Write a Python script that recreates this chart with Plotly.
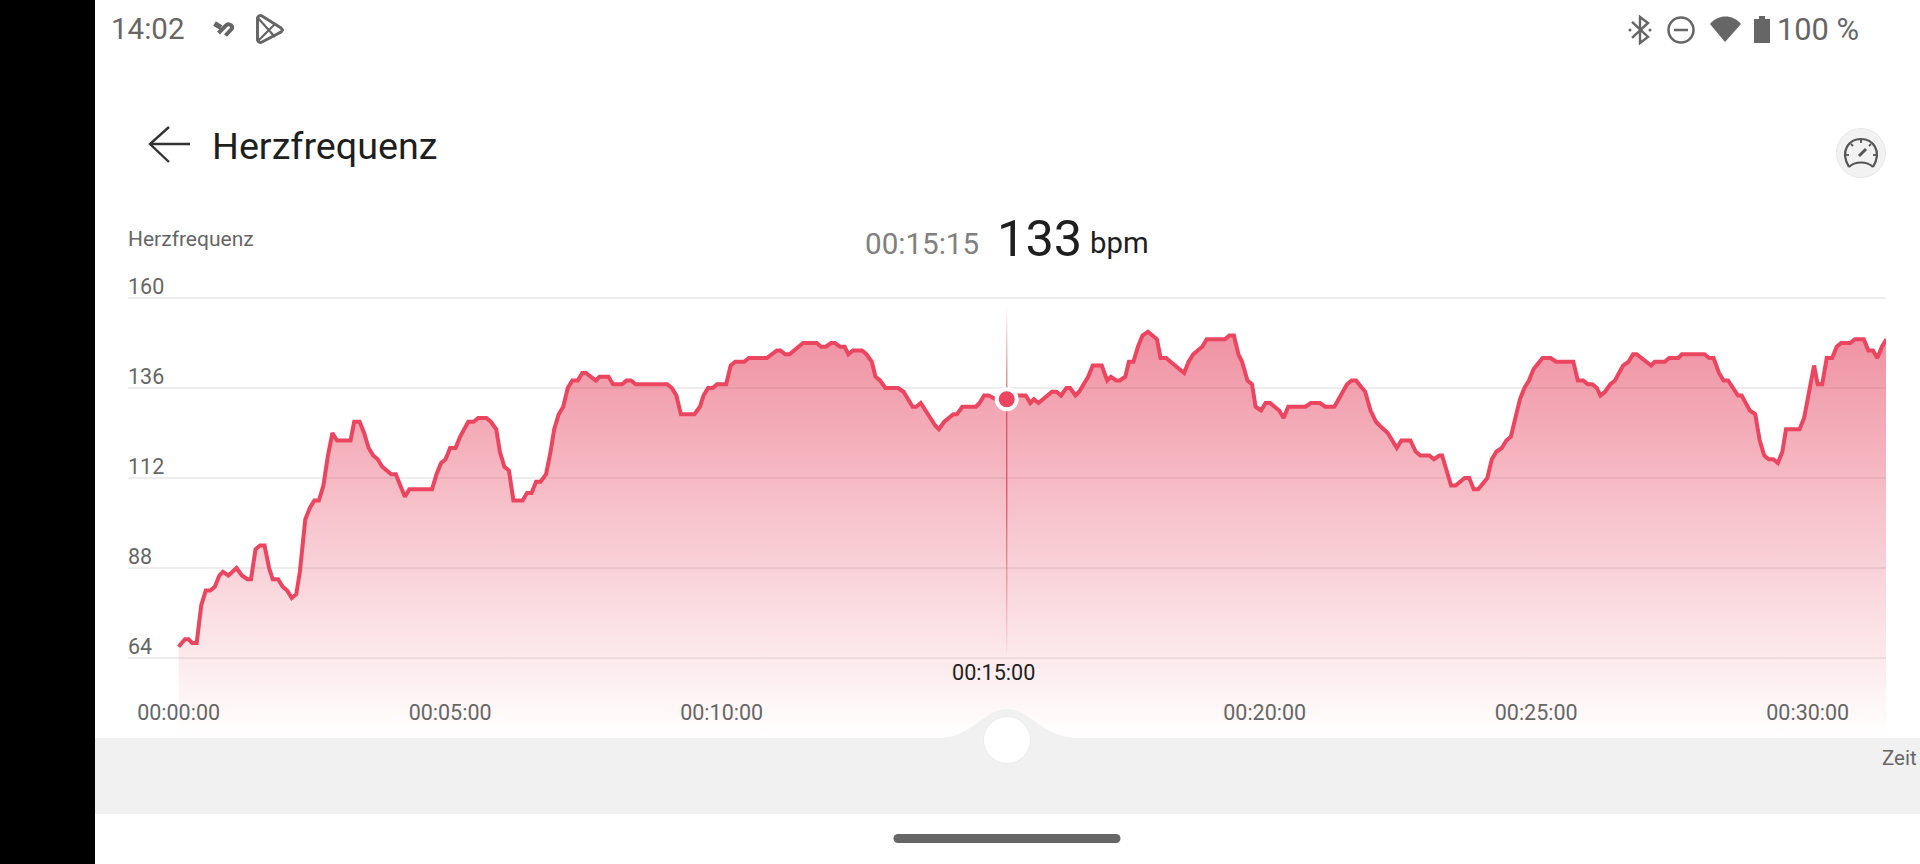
import re
import plotly.graph_objects as go

# Heart rate series: seconds since start, bpm
seconds = [0,3,7,11,15,20,25,30,35,40,45,49,55,64,70,76,80,85,90,95,100,104,110,115,120,125,130,134,140,145,150,155,160,165,170,175,190,194,200,205,210,215,220,225,235,240,250,255,280,285,290,295,300,306,311,320,326,331,340,345,351,355,360,365,370,380,385,390,395,400,406,411,415,420,425,430,435,441,446,450,461,465,475,480,490,495,500,505,540,545,550,555,570,
 576,580,585,590,595,605,610,615,625,630,650,661,665,670,675,690,705,710,715,721,725,731,736,740,745,755,760,766,770,775,781,795,801,811,815,820,836,840,846,851,856,860,866,881,885,890,895,903,915,925,936,941,945,950,965,970,975,981,985,991,995,1005,1010,1020,1026,1030,1036,1040,1046,1050,1055,1060,1065,1071,1081,1085,1091,1111,1116,1121,1131,1136,1156,1161,1166,1171,1175,1181,1186,1190,
 1196,1201,1206,1216,1221,1226,1245,1251,1261,1267,1277,1291,1296,1301,1307,1311,1317,1323,1327,1336,1346,1351,1361,1367,1372,1382,1387,1393,1396,1406,1411,1421,1426,1431,1436,1442,1446,1451,1456,1462,1467,1472,1477,1482,1487,1492,1497,1503,1507,1516,1522,1541,1546,1552,1557,1562,1567,1571,1576,1582,1587,1596,1602,1607,1611,1627,1631,1642,1647,1657,1661,1686,1691,1696,1702,1707,1712,1723,1727,1736,1742,1747,1752,1757,1762,1767,1772,1776,1791,1796,1801,1807,1811,1816,1821,1827,1832,1837,1847,1852,1862,1867,1872,1877,1882,1887]
bpm = [67,68,69,69,68,68,78,82,82,83,86,87,86,88,86,85,85,93,94,94,88,85,85,83,82,80,81,87,101,104,106,106,110,118,124,122,122,127,127,124,120,118,117,115,113,113,107,109,109,113,116,117,120,120,123,127,127,128,128,127,125,119,115,114,106,106,108,108,111,111,113,119,125,129,131,136,138,138,140,140,138,139,139,137,137,138,138,137,137,136,134,129,129,
 131,134,136,136,137,137,142,143,143,144,144,146,146,145,145,148,148,147,147,148,148,147,147,145,146,146,145,143,139,138,136,136,135,131,131,132,126,125,127,128,129,129,131,131,132,134,134,133,133,134,134,132,133,132,135,135,134,136,136,134,135,139,142,142,138,139,138,138,139,143,143,147,150,151,149,144,144,140,143,145,147,149,149,150,150,145,143,138,137,131,
 130,132,132,130,128,131,131,132,132,131,131,137,138,138,136,135,130,127,126,124,120,122,122,119,118,118,117,118,118,110,110,112,112,109,109,111,112,117,119,120,122,123,128,133,136,138,141,143,144,144,143,143,138,138,137,137,136,134,135,137,138,142,143,145,145,142,143,143,144,144,145,145,144,144,140,138,138,134,134,130,129,122,118,117,117,116,119,125,125,128,134,142,137,137,144,144,147,148,148,149,149,146,146,144,147,149]

y_ticks = [64, 88, 112, 136, 160]
x_ticks = [0, 300, 600, 1200, 1500, 1800]
x_tick_labels = ["00:00:00", "00:05:00", "00:10:00", "00:20:00", "00:25:00", "00:30:00"]
selected_seconds = 915
selected_bpm = 133

W, H = 1920, 864
RED = "#EB4560"
GREY = "#666666"
DARK = "#1F1F1F"
FONT = "Roboto"


def fx(x):
    return x / W


def fy(y):
    return 1 - y / H


def path(d):
    """Turn an SVG path in page pixels into paper coordinates."""
    nums = iter(re.findall(r"[A-Za-z]|-?[\d.]+", d))
    out, is_x = [], True
    for tok in nums:
        if tok.isalpha():
            out.append(tok)
        else:
            out.append(f"{fx(float(tok)):.5f}" if is_x else f"{fy(float(tok)):.5f}")
            is_x = not is_x
    return " ".join(out)


def stroke(d, color=GREY, width=2.5, fill=None):
    return dict(type="path", xref="paper", yref="paper", path=path(d), layer="above",
                line=dict(color=color, width=width), fillcolor=fill or "rgba(0,0,0,0)")


def solid(d, color=GREY):
    return dict(type="path", xref="paper", yref="paper", path=path(d), layer="above",
                line=dict(width=0), fillcolor=color)


def rect(x0, y0, x1, y1, color):
    return dict(type="rect", xref="paper", yref="paper", layer="above", x0=fx(x0), x1=fx(x1),
                y0=fy(y1), y1=fy(y0), line=dict(width=0), fillcolor=color)


def circle(cx, cy, r, fill, line=None, width=0):
    return dict(type="circle", xref="paper", yref="paper", layer="above", x0=fx(cx - r), x1=fx(cx + r),
                y0=fy(cy + r), y1=fy(cy - r), fillcolor=fill,
                line=dict(color=line or fill, width=width))


def label(text, x, y, size, color=GREY, anchor="left", xref="paper"):
    return dict(text=text, x=x if xref != "paper" else fx(x), y=fy(y), xref=xref, yref="paper",
                xanchor=anchor, yanchor="middle", showarrow=False,
                font=dict(family=FONT, size=size, color=color))


fig = go.Figure()

fig.add_trace(go.Scatter(
    x=seconds, y=bpm, mode="lines", hoverinfo="skip",
    line=dict(color=RED, width=4, shape="linear"),
    fill="tozeroy",
    fillgradient=dict(type="vertical", start=42.67, stop=151,
                      colorscale=[[0, "rgba(232,70,96,0)"], [1, "rgba(228,66,94,0.58)"]]),
))

# crosshair at the selected time, fading towards both ends
fig.add_trace(go.Scatter(
    x=[selected_seconds - 0.7, selected_seconds + 0.7, selected_seconds + 0.7, selected_seconds - 0.7, selected_seconds - 0.7],
    y=[65, 65, 158, 158, 65], mode="lines", hoverinfo="skip", line=dict(width=0),
    fill="toself",
    fillgradient=dict(type="vertical", start=65, stop=158,
                      colorscale=[[0, "rgba(235,69,96,0.05)"], [0.45, "rgba(235,69,96,0.95)"],
                                  [0.72, "rgba(235,69,96,0.95)"], [1, "rgba(235,69,96,0)"]]),
))

fig.add_trace(go.Scatter(
    x=[selected_seconds], y=[selected_bpm], mode="markers", hoverinfo="skip",
    marker=dict(size=20, color=RED, line=dict(color="white", width=4)),
))

shapes = [
    rect(0, 0, 95, H, "#000000"),
    # bottom slider band with bump
    rect(95, 738, W, 814, "#F1F1F1"),
    solid("M 940 738 C 970 738 985 709 1007 709 C 1029 709 1044 738 1077 738 Z", "#F1F1F1"),
    circle(1007, 740, 24, "#ECECEC"),
    circle(1007, 740, 23, "#FFFFFF"),
    # home indicator
    rect(898, 834, 1116, 843, GREY),
    circle(898, 838.5, 4.5, GREY),
    circle(1116, 838.5, 4.5, GREY),
    # back arrow
    stroke("M 190 144 L 151 144", "#333333", 2.4),
    stroke("M 169 127 L 150 144 L 169 162", "#333333", 2.4),
    # status bar, left icons
    stroke("M 214.5 23.5 L 221 27.5", GREY, 5),
    stroke("M 218.5 33 L 226 25.5 C 228 23 233 25 232 28.5 L 225.5 35.5", GREY, 4),
    stroke("M 257.5 18 C 258 16 260 15 262 16 L 281 28 C 283 30 283 30 281 32 L 262 42 C 260 43 258 42 257.5 40 Z", GREY, 3),
    stroke("M 258 18 L 275 37", GREY, 2.2),
    stroke("M 258 41 L 275 24", GREY, 2.2),
    # status bar, right icons
    stroke("M 1632 22 L 1648 37 L 1640 43 L 1640 17 L 1648 23 L 1632 38", GREY, 2.4),
    circle(1630, 30, 1.5, GREY),
    circle(1650, 30, 1.5, GREY),
    circle(1681, 30, 12.5, "rgba(0,0,0,0)", GREY, 2.5),
    stroke("M 1674 30 L 1688 30", GREY, 2.5),
    solid("M 1725 42 L 1710 24 C 1718 14 1733 14 1741 24 Z"),
    rect(1754, 19, 1770, 43, GREY),
    rect(1759, 16, 1765, 19, GREY),
    # gauge button
    circle(1861, 153, 24.5, "#F2F2F2", "#E8E8E8", 1),
    stroke("M 1849 167 C 1839 150 1850 139 1861 139 C 1872 139 1883 150 1873 167", "#555555", 2.2),
    stroke("M 1849 167 C 1855 161 1867 161 1873 167", "#555555", 2.2),
    stroke("M 1859 156 L 1866 149", "#555555", 3),
    stroke("M 1861 139 L 1861 143", "#555555", 1.8),
    stroke("M 1851 144 L 1853 146", "#555555", 1.8),
    stroke("M 1871 144 L 1869 146", "#555555", 1.8),
    stroke("M 1846 155 L 1849 155", "#555555", 1.8),
    stroke("M 1876 155 L 1873 155", "#555555", 1.8),
]

annotations = [
    label("14:02", 108.5, 29, 29.5),
    label("100 %", 1775, 30, 30.8),
    label("Herzfrequenz", 210, 146, 37.7, DARK),
    label("Herzfrequenz", 126, 239, 21),
    label("00:15:15", 863, 244, 29.6, "#808080"),
    label("133", 995, 238, 50.5, DARK),
    label("bpm", 1087.5, 243, 29.3, DARK),
    label("00:15:00", selected_seconds - 15, 672, 21.6, DARK, "center", "x"),
    label("Zeit", 1879.5, 758, 20.5, GREY),
]

fig.update_layout(
    width=W, height=H, margin=dict(l=0, r=0, t=0, b=0),
    paper_bgcolor="white", plot_bgcolor="white",
    showlegend=False, shapes=shapes, annotations=annotations,
    font=dict(family=FONT),
    xaxis=dict(
        domain=[fx(128), fx(1886)], range=[-55.9, 1886.5],
        anchor="free", position=fy(697),
        tickvals=x_ticks, ticktext=x_tick_labels,
        tickfont=dict(family=FONT, size=21.5, color=GREY),
        showgrid=False, zeroline=False, showline=False, ticks="",
    ),
    yaxis=dict(
        domain=[fy(738), fy(268)], range=[42.67, 168],
        tickvals=y_ticks, ticktext=[str(v) for v in y_ticks],
        tickfont=dict(family=FONT, size=21.5, color=GREY),
        ticklabelposition="inside", ticklabelshift=-12, ticklabelstandoff=-3,
        showgrid=True, gridcolor="#EDEDED", gridwidth=1.5,
        zeroline=False, showline=False, ticks="",
    ),
)

fig.write_html("out.html", config=dict(displayModeBar=False),
               post_script="document.body.style.margin='0';document.documentElement.style.overflow='hidden';")
